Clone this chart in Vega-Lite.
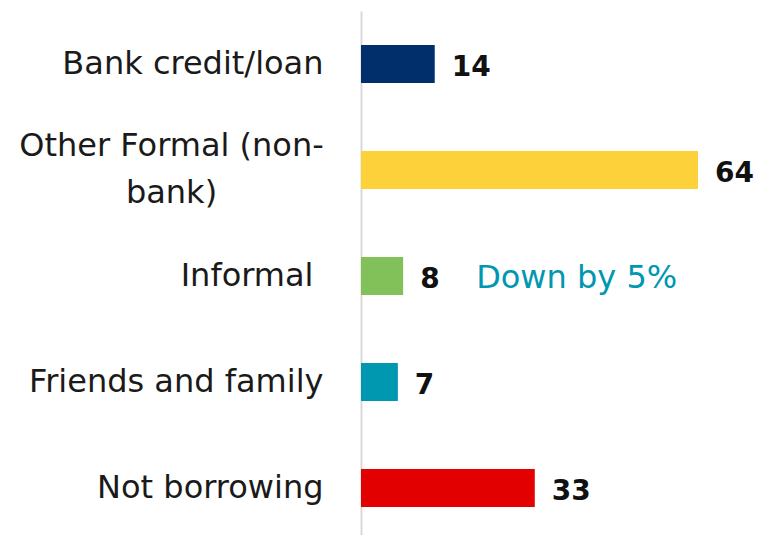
{
  "$schema": "https://vega.github.io/schema/vega-lite/v6.json",
  "autosize": "none",
  "width": 398,
  "height": 530,
  "padding": {"left": 361, "top": 11, "right": 0, "bottom": 0},
  "background": "white",
  "config": {"view": {"stroke": null}, "font": "DejaVu Sans"},
  "data": {
    "values": [
      {"category": "Bank credit/loan", "value": 14, "color": "#002f6c", "note": null},
      {"category": "Other Formal (non-bank)", "value": 64, "color": "#fdd13a", "note": null},
      {"category": "Informal", "value": 8, "color": "#82c15a", "note": "Down by 5%"},
      {"category": "Friends and family", "value": 7, "color": "#0097b0", "note": null},
      {"category": "Not borrowing", "value": 33, "color": "#e30000", "note": null}
    ]
  },
  "encoding": {
    "y": {
      "field": "category",
      "type": "nominal",
      "sort": null,
      "scale": {"paddingInner": 0.64, "paddingOuter": 0.32},
      "axis": {
        "title": null,
        "ticks": false,
        "domainColor": "#d9d9d9",
        "domainWidth": 2,
        "labelFont": "DejaVu Sans",
        "labelFontSize": 32,
        "labelColor": "#1a1a1a",
        "labelPadding": {"condition": [
          {"test": "datum.value == 'Other Formal (non-bank)'", "value": 190},
          {"test": "datum.value == 'Informal'", "value": 48}
        ], "value": 38},
        "labelOffset": {"condition": {"test": "datum.value == 'Other Formal (non-bank)'", "value": -24}, "value": 0},
        "labelLimit": 400,
        "labelLineHeight": 47,
        "labelExpr": "datum.value == 'Other Formal (non-bank)' ? ['Other Formal (non-', 'bank)'] : datum.value",
        "labelAlign": {"condition": {"test": "datum.value == 'Other Formal (non-bank)'", "value": "center"}, "value": "right"}
      }
    },
    "x": {
      "field": "value",
      "type": "quantitative",
      "scale": {"domain": [0, 75.58], "nice": false},
      "axis": null
    }
  },
  "layer": [
    {
      "mark": {"type": "bar"},
      "encoding": {"color": {"field": "color", "type": "nominal", "scale": null}}
    },
    {
      "mark": {"type": "text", "align": "left", "baseline": "middle", "dx": 17, "dy": 4, "fontSize": 28, "fontWeight": "bold", "color": "#111111"},
      "encoding": {"text": {"field": "value", "type": "quantitative"}}
    },
    {
      "transform": [{"filter": "datum.note != null"}],
      "mark": {"type": "text", "align": "left", "baseline": "middle", "dx": 73, "dy": 2, "fontSize": 32, "fontWeight": "normal", "color": "#0097b0"},
      "encoding": {"text": {"field": "note", "type": "nominal"}}
    }
  ]
}
